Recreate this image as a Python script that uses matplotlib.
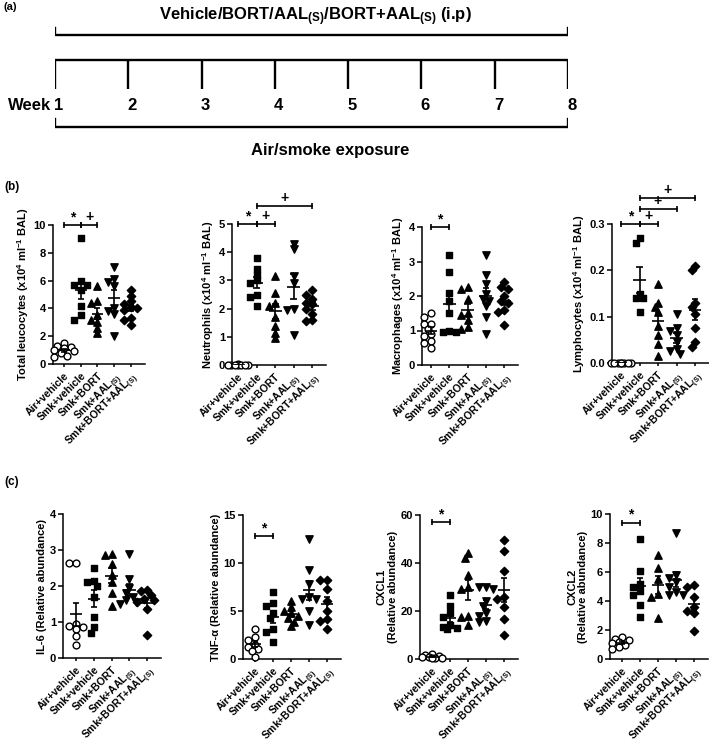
import numpy as np
import matplotlib.pyplot as plt

plt.rcParams['font.family'] = ['Liberation Sans', 'DejaVu Sans']
plt.rcParams['font.weight'] = 'bold'
plt.rcParams['mathtext.fontset'] = 'custom'
plt.rcParams['mathtext.rm'] = 'Liberation Sans'
plt.rcParams['mathtext.bf'] = 'Liberation Sans:bold'
plt.rcParams['mathtext.it'] = 'Liberation Sans:italic'

W, H = 709, 744

groups = ['Air+vehicle', 'Smk+vehicle', 'Smk+BORT',
          r'Smk+AAL$_{\mathregular{(S)}}$', r'Smk+BORT+AAL$_{\mathregular{(S)}}$']
weeks = [1, 2, 3, 4, 5, 6, 7, 8]

# (b) BAL cells
leuco = [[1.5, 1.3, 1.2, 1.15, 1.0, 0.9, 0.8, 0.6, 0.5],
         [9.1, 6.0, 5.7, 5.7, 5.3, 4.2, 3.5, 3.2],
         [5.6, 4.5, 4.4, 3.5, 3.2, 3.0, 2.6, 2.2],
         [7.0, 6.1, 5.9, 5.6, 4.0, 3.8, 3.6, 2.0],
         [5.3, 4.9, 4.5, 4.3, 4.1, 4.0, 3.9, 3.3, 3.2, 2.8]]
neutro = [[0.02, 0.01, 0.0, 0.0, 0.0, 0.0, 0.0, 0.0],
          [3.8, 3.4, 3.2, 3.0, 2.9, 2.5, 2.4, 2.1],
          [3.15, 2.55, 2.2, 2.1, 1.7, 1.4, 1.15, 0.95],
          [4.3, 4.1, 3.15, 2.9, 2.0, 1.95, 1.05],
          [2.65, 2.5, 2.35, 2.2, 2.15, 2.0, 1.8, 1.6, 1.55]]
macro = [[1.5, 1.4, 1.2, 1.2, 1.05, 0.9, 0.85, 0.7, 0.65, 0.5],
         [3.2, 2.7, 2.1, 1.85, 1.5, 1.0, 0.95, 0.95],
         [2.25, 2.2, 1.9, 1.5, 1.45, 1.3, 1.1, 1.05],
         [3.2, 2.6, 2.35, 2.05, 1.9, 1.85, 1.7, 1.4, 0.9],
         [2.4, 2.25, 2.2, 2.0, 1.85, 1.8, 1.6, 1.55, 1.15]]
lympho = [[0.0, 0.0, 0.0, 0.0, 0.0, 0.0, 0.0, 0.0],
          [0.27, 0.26, 0.15, 0.14, 0.14, 0.11],
          [0.17, 0.13, 0.12, 0.11, 0.08, 0.06, 0.04, 0.015],
          [0.105, 0.075, 0.07, 0.06, 0.045, 0.03, 0.025, 0.02],
          [0.21, 0.2, 0.13, 0.12, 0.105, 0.075, 0.045, 0.035]]

# (c) cytokines
il6 = [[2.65, 2.65, 0.95, 0.9, 0.85, 0.8, 0.6, 0.35],
       [2.5, 2.15, 2.1, 2.0, 1.7, 1.15, 0.85, 0.7],
       [2.9, 2.85, 2.6, 2.3, 2.1, 1.8, 1.45],
       [2.9, 2.2, 1.95, 1.8, 1.7, 1.6, 1.55, 1.5],
       [1.9, 1.85, 1.75, 1.65, 1.6, 1.55, 1.35, 0.65]]
tnf = [[3.1, 2.3, 2.0, 1.5, 1.3, 1.0, 0.8, 0.2],
       [7.0, 5.8, 5.5, 4.8, 4.3, 3.1, 2.8, 1.8],
       [6.0, 5.4, 5.0, 4.8, 4.5, 4.3, 3.9, 3.4],
       [12.5, 9.3, 7.8, 6.5, 6.3, 6.3, 5.0, 3.5],
       [8.2, 8.2, 7.3, 6.0, 5.0, 4.2, 4.0, 3.1]]
cxcl1 = [[2.0, 1.5, 1.2, 1.0, 0.8, 0.6, 0.5, 0.3],
         [26.5, 22, 19, 17.5, 14, 13.5, 13, 12.5],
         [44, 42, 35, 30, 29, 18, 17.5, 14],
         [30, 30, 29, 24, 22, 19, 18, 16, 15.5],
         [49.5, 45, 36.5, 26, 25, 21.5, 16.5, 10]]
cxcl2 = [[1.5, 1.4, 1.3, 1.2, 1.1, 1.0, 0.8, 0.7],
         [8.3, 6.1, 5.2, 5.0, 4.7, 4.4, 3.7, 2.9],
         [7.2, 6.3, 5.5, 4.5, 4.3, 2.8],
         [8.7, 5.8, 5.6, 5.3, 5.0, 4.6, 4.4, 4.4],
         [5.1, 5.0, 4.3, 3.6, 3.3, 3.2, 1.9]]

bal_unit = r' (x10$^{\mathbf{4}}$ ml$^{\mathbf{-1}}$ BAL)'
panels = [
    # data, ylabel, yticks, brackets (i, j, y, sym), geometry px (axis_left, cat0, spacing, top, bottom)
    (leuco, 'Total leucocytes' + bal_unit, [0, 2, 4, 6, 8, 10],
     [(0, 1, 10, '*'), (1, 2, 10, '+')], (53, 64, 16.7, 225, 364)),
    (neutro, 'Neutrophils' + bal_unit, [0, 1, 2, 3, 4, 5],
     [(0, 1, 5, '*'), (1, 2, 5, '+'), (1, 4, 5.65, '+')], (232, 238, 18.6, 224, 365)),
    (macro, 'Macrophages' + bal_unit, [0, 1, 2, 3, 4],
     [(0, 1, 4, '*')], (422, 431, 18.3, 227, 365)),
    (lympho, 'Lymphocytes' + bal_unit, [0.0, 0.1, 0.2, 0.3],
     [(0, 1, 0.3, '*'), (1, 2, 0.3, '+'), (1, 3, 0.332, '+'), (1, 4, 0.357, '+')],
     (612, 621, 18.5, 224, 363)),
    (il6, 'IL-6 (Relative abundance)', [0, 1, 2, 3, 4], [], (63, 76, 17.8, 514, 658)),
    (tnf, 'TNF-α (Relative abundance)', [0, 5, 10, 15],
     [(0, 1, 12.8, '*')], (243, 255, 18, 515, 659)),
    (cxcl1, 'CXCL1\n(Relative abundance)', [0, 20, 40, 60],
     [(0, 1, 57, '*')], (420, 432, 18, 515, 659)),
    (cxcl2, 'CXCL2\n(Relative abundance)', [0, 2, 4, 6, 8, 10],
     [(0, 1, 9.4, '*')], (610, 622, 18, 514, 659)),
]

markers = [('o', 'white'), ('s', 'black'), ('^', 'black'), ('v', 'black'), ('D', 'black')]
msizes = [24, 24, 28, 28, 18]


def swarm(vals, scale, sp, d=5.5, nmax=3):
    # simple beeswarm, limited width; offsets in category units
    vals = np.asarray(vals, float)
    offs = np.zeros(len(vals))
    placed = []
    step = d * 0.6
    cands = [0.0]
    for m in range(1, nmax + 1):
        cands += [-m * step, m * step]
    for k in np.argsort(vals)[::-1]:
        y = vals[k] * scale
        best, bestd = 0.0, -1
        for c in cands:
            dmin = min([np.hypot(c - px, y - py) for px, py in placed] + [99])
            if dmin >= d:
                best = c
                break
            if dmin > bestd:
                best, bestd = c, dmin
        placed.append((best, y))
        offs[k] = best / sp
    return offs


fig = plt.figure(figsize=(W / 100, H / 100), dpi=100)


def px_axes(l, t, r, b):
    return fig.add_axes([l / W, 1 - b / H, (r - l) / W, (b - t) / H])


# ---- (a) timeline
tl = px_axes(55, 0, 568, 180)
tl.set_xlim(1, 8)
tl.set_ylim(180, 0)
tl.axis('off')
lw = 1.7
tl.plot([1, 8], [60, 60], color='black', lw=lw, solid_capstyle='projecting')
tl.vlines(weeks, 60, 89, color='black', lw=lw)
tl.plot([1, 1, 8, 8], [28, 35, 35, 28], color='black', lw=lw)
tl.plot([1, 1, 8, 8], [119, 127, 127, 119], color='black', lw=lw)
for w in weeks:
    tl.text(w + 0.05, 106, str(w), ha='center', va='center', fontsize=12, fontweight='bold')
tl.text(0.95, 106, 'Week', ha='right', va='center', fontsize=12, fontweight='bold', clip_on=False)
tl.text(4.55, 17, r'Vehicle/BORT/AAL$_{\mathbf{(S)}}$/BORT+AAL$_{\mathbf{(S)}}$ (i.p)',
        ha='center', va='center', fontsize=12, fontweight='bold')
tl.text(4.75, 151, 'Air/smoke exposure', ha='center', va='center', fontsize=12, fontweight='bold')

fig.text(4 / W, 1 - 7 / H, '(a)', fontsize=8, fontweight='bold', va='center')
fig.text(4 / W, 1 - 187 / H, '(b)', fontsize=8.5, fontweight='bold', va='center')
fig.text(4 / W, 1 - 482 / H, '(c)', fontsize=8.5, fontweight='bold', va='center')

# ---- (b), (c) scatter panels
for data, ylab, yt, brackets, (left, cat0, sp, top, bottom) in panels:
    right = cat0 + 4 * sp + 14
    ax = px_axes(left, top, right, bottom)
    ymax = yt[-1]
    ax.set_xlim((left - cat0) / sp, (right - cat0) / sp)
    ax.set_ylim(0, ymax)
    scale = (bottom - top) / ymax
    for i, vals in enumerate(data):
        x = i + swarm(vals, scale, sp)
        mk, fc = markers[i]
        ax.scatter(x, vals, s=msizes[i], marker=mk, facecolor=fc, edgecolor='black',
                   linewidths=1.0, clip_on=False, zorder=3)
        m = np.mean(vals)
        se = np.std(vals, ddof=1) / np.sqrt(len(vals))
        ax.hlines(m, i - 0.35, i + 0.35, color='black', lw=1.2, zorder=4)
        ax.vlines(i, m - se, m + se, color='black', lw=1.2, zorder=4)
        ax.hlines([m - se, m + se], i - 0.18, i + 0.18, color='black', lw=1.2, zorder=4)
    cap = 3.0 / scale
    for i, j, y, sym in brackets:
        ax.plot([i, j], [y, y], color='black', lw=1.2, clip_on=False)
        ax.vlines([i, j], y - cap, y + cap, color='black', lw=1.2, clip_on=False)
        ax.text((i + j) / 2, y + 1.0 / scale, sym, ha='center', va='bottom',
                fontsize=10, fontweight='bold', clip_on=False)
    ax.spines['top'].set_visible(False)
    ax.spines['right'].set_visible(False)
    for s in ['left', 'bottom']:
        ax.spines[s].set_linewidth(1.1)
    ax.set_yticks(yt)
    if ymax < 1:
        ax.set_yticklabels(['%.1f' % v for v in yt])
    ax.set_xticks(range(5))
    ax.set_xticklabels(groups, rotation=45, ha='right', rotation_mode='anchor', fontsize=7.5)
    ax.tick_params(axis='y', length=3.5, width=1.1, labelsize=8, pad=1.5)
    ax.tick_params(axis='x', length=2.5, width=1.1, pad=2)
    ax.set_ylabel(ylab, fontsize=8, fontweight='bold', labelpad=2, linespacing=1.1)

fig.savefig('out.png', dpi=100)
